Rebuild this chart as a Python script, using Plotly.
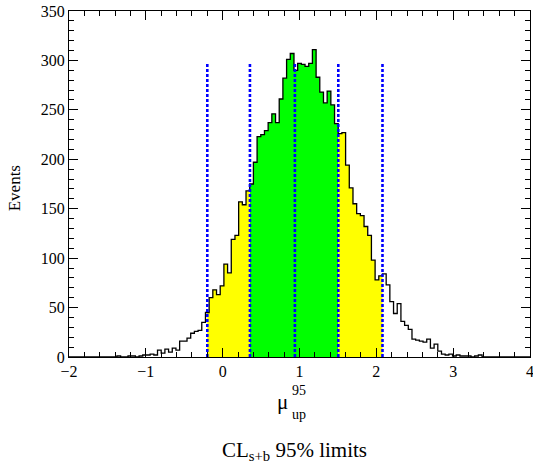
import numpy as np
import plotly.graph_objects as go

# ---- data ----
BIN_START = -2.0
BIN_WIDTH = 0.048
counts = [0] * 12 + [
    0, 1, 0, 0, 1, 1, 0, 1, 2, 2, 3, 2, 7, 4, 8, 5, 9, 7, 16, 16, 19, 24, 26, 27, 35, 45,
    60, 68, 63, 72, 94, 85, 119, 123, 157, 154, 168, 175, 197, 223, 225, 229, 237, 246,
    237, 261, 282, 301, 307, 290, 297, 296, 294, 297, 311, 283, 268, 257, 269, 255, 236,
    226, 227, 194, 171, 155, 145, 143, 132, 123, 98, 78, 82,
    84, 73, 56, 44, 54, 36, 32, 28, 18, 17, 16, 15, 18, 9, 13, 6, 3, 2, 3, 1, 2, 1, 1, 1,
    0, 1, 2,
] + [0] * 13
# quantiles: 2.5%, 16%, 50%, 84%, 97.5%
limits = [-0.2, 0.355, 0.94, 1.505, 2.08]
LINE_TOP = 297
x_ticks = [-2, -1, 0, 1, 2, 3, 4]
y_ticks = [0, 50, 100, 150, 200, 250, 300, 350]

edges = BIN_START + BIN_WIDTH * np.arange(len(counts) + 1)


def band(lo, hi):
    i = int(np.searchsorted(edges, lo, side="right") - 1)
    xs = [lo, lo]
    ys = [0, counts[i]]
    j = i + 1
    while edges[j] < hi:
        xs += [edges[j], edges[j]]
        ys += [counts[j - 1], counts[j]]
        j += 1
    xs += [hi, hi]
    ys += [counts[j - 1], 0]
    return xs, ys


FONT = "Liberation Serif"
fig = go.Figure()
for lo, hi, col in [(limits[0], limits[1], "#ffff00"),
                    (limits[1], limits[3], "#00ff00"),
                    (limits[3], limits[4], "#ffff00")]:
    bx, by = band(lo, hi)
    fig.add_trace(go.Scatter(x=bx, y=by, mode="lines", fill="toself", fillcolor=col,
                             line=dict(width=0), hoverinfo="skip", showlegend=False))

fig.add_trace(go.Scatter(x=edges, y=counts + [counts[-1]], mode="lines",
                         line=dict(color="black", width=1.3, shape="hv"), showlegend=False))

lx, ly = [], []
for q in limits:
    lx += [q, q, None]
    ly += [0, LINE_TOP, None]
fig.add_trace(go.Scatter(x=lx, y=ly, mode="lines",
                         line=dict(color="#0000ff", width=2.6, dash="3px,2px"), showlegend=False))

axis_common = dict(showgrid=False, zeroline=False, showline=True, linecolor="black", linewidth=1,
                   mirror="allticks", ticks="inside", ticklen=9, tickwidth=1, tickcolor="black",
                   ticklabeloverflow="allow",
                   tickfont=dict(family=FONT, size=16, color="black"))
fig.update_xaxes(range=[-2, 4], tickvals=x_ticks, minor=dict(dtick=0.2, tick0=0, ticklen=5,
                 ticks="inside", tickcolor="black"), **axis_common)
fig.update_yaxes(range=[0, 350], tickvals=y_ticks, minor=dict(dtick=10, tick0=0, ticklen=5,
                 ticks="inside", tickcolor="black"), **axis_common)

ann = [
    dict(text="Events", x=-0.119, y=0.488, textangle=-90, font=dict(size=17)),
    dict(text="μ", x=0.463, y=-0.13, font=dict(size=21)),
    dict(text="95", x=0.48, y=-0.098, xanchor="left", font=dict(size=14)),
    dict(text="up", x=0.48, y=-0.165, xanchor="left", font=dict(size=14)),
    dict(text="CL<sub>s+b</sub> 95% limits", x=0.49, y=-0.272, font=dict(size=21)),
]
for a in ann:
    a.setdefault("xanchor", "center")
    a.update(xref="paper", yref="paper", showarrow=False, yanchor="middle")
    a["font"].update(family=FONT, color="black")
fig.update_layout(annotations=ann, width=533, height=469,
                  margin=dict(l=69, r=3, t=11, b=112, autoexpand=False),
                  plot_bgcolor="white", paper_bgcolor="white",
                  font=dict(family=FONT, color="black"))
# remove the default 8px page margin so the figure fills the window exactly
fig.write_html("out.html", config={"displayModeBar": False, "staticPlot": True},
               post_script="document.body.style.margin='0';document.body.style.overflow='hidden';")
